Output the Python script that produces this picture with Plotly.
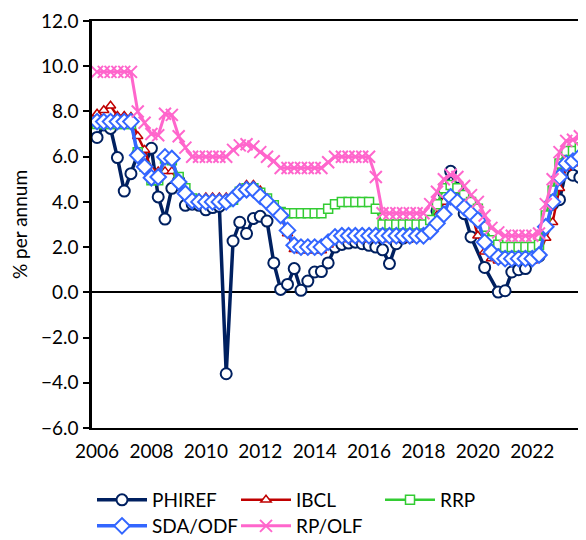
import pandas as pd
import plotly.graph_objects as go

# Quarterly observations, 2006Q1 .. 2023Q4
quarters = pd.period_range("2006Q1", periods=72, freq="Q").to_timestamp()

phiref = [6.85, 7.4, 7.25, 5.96, 4.48, 5.25, 6.1, 5.6,
          6.37, 4.22, 3.24, 4.6, 4.95, 3.85, 3.9, 3.85,
          3.65, 3.75, 3.8, -3.6, 2.27, 3.1, 2.6, 3.26,
          3.36, 3.15, 1.3, 0.13, 0.35, 1.05, 0.09, 0.5,
          0.9, 0.92, 1.3, 2.0, 2.12, 2.18, 2.22, 2.15,
          2.08, 2.0, 1.88, 1.27, 2.15, 2.4, 2.45, 2.5,
          2.6, 3.0, 3.6, 4.4, 5.35, 4.6, 3.48, 2.45,
          None, 1.1, None, 0.01, 0.07, 0.9, 1.0, 1.05,
          1.5, 1.6, 2.9, 3.9, 4.1, 5.4, 5.18, 5.08]

ibcl = [7.9, 8.05, 8.25, 7.8, 7.8, 7.75, 6.9, 6.3,
        5.4, 5.35, 5.35, 5.35, 4.9, 4.4, 4.1, 4.15,
        4.2, 4.2, 4.2, 4.2, 4.25, 4.6, 4.75, 4.75,
        4.5, 4.15, 3.8, 3.4, 2.6, 1.9, 1.85, 1.85,
        1.85, 1.85, 2.1, 2.5, 2.35, 2.35, 2.4, 2.35,
        2.35, 2.4, 2.35, 2.35, 2.4, 2.35, 2.35, 2.4,
        2.45, 2.8, 3.4, 4.0, 4.4, 4.2, 3.9, 3.6,
        2.5, 1.8, 1.5, 1.4, 1.4, 1.4, 1.4, 1.4,
        1.4, 1.7, 2.4, 3.1, 4.6, 5.5, 5.7, 5.85]

rrp = [7.45, 7.45, 7.45, 7.45, 7.45, 7.45, 6.2, 5.55,
       4.96, 4.96, 5.92, 5.84, 5.1, 4.6, 4.15, 4.0,
       4.0, 4.0, 4.0, 4.0, 4.1, 4.45, 4.6, 4.6,
       4.4, 4.15, 3.85, 3.55, 3.5, 3.5, 3.5, 3.5,
       3.5, 3.5, 3.7, 3.9, 4.0, 4.0, 4.0, 4.0,
       4.0, 3.7, 3.0, 3.0, 3.0, 3.0, 3.0, 3.0,
       3.0, 3.2, 3.9, 4.6, 4.75, 4.6, 4.3, 4.0,
       3.7, 2.9, 2.3, 2.1, 2.0, 2.0, 2.0, 2.0,
       2.0, 2.1, 3.4, 4.5, 5.7, 6.25, 6.25, 6.4]

sda_odf = [7.55, 7.55, 7.55, 7.55, 7.55, 7.55, 6.06, 5.55,
           5.07, 5.1, 5.99, 5.92, 4.88, 4.37, 4.05, 4.0,
           4.0, 4.0, 4.0, 4.0, 4.15, 4.44, 4.54, 4.54,
           4.25, 4.0, 3.7, 3.4, 2.74, 2.08, 2.0, 2.0,
           2.0, 2.0, 2.22, 2.45, 2.5, 2.5, 2.5, 2.5,
           2.5, 2.5, 2.5, 2.5, 2.5, 2.5, 2.5, 2.5,
           2.5, 2.7, 3.05, 3.45, 4.22, 4.0, 3.75, 3.48,
           3.2, 2.22, 1.78, 1.56, 1.49, 1.49, 1.49, 1.49,
           1.49, 1.65, 2.9, 4.0, 5.1, 5.7, 5.8, 6.0]

rp_olf = [9.75, 9.75, 9.75, 9.75, 9.75, 9.75, 8.0, 7.5,
          7.0, 6.95, 7.9, 7.85, 6.9, 6.4, 6.0, 6.0,
          6.0, 6.0, 6.0, 6.0, 6.3, 6.5, 6.55, 6.45,
          6.2, 6.0, 5.8, 5.5, 5.5, 5.5, 5.5, 5.5,
          5.5, 5.5, 5.75, 6.0, 6.0, 6.0, 6.0, 6.0,
          6.0, 5.1, 3.5, 3.5, 3.5, 3.5, 3.5, 3.5,
          3.5, 3.9, 4.45, 5.0, 5.2, 5.1, 4.7, 4.3,
          4.0, 3.4, 2.85, 2.65, 2.5, 2.5, 2.5, 2.5,
          2.5, 2.6, 3.9, 5.0, 6.2, 6.7, 6.75, 6.9]

tick_years = [2006, 2008, 2010, 2012, 2014, 2016, 2018, 2020, 2022]

FONT = "Lato"

fig = go.Figure()

# PHIREF - navy line, open circles
fig.add_trace(go.Scatter(
    x=quarters, y=phiref, name="PHIREF", mode="lines+markers",
    connectgaps=True,
    line=dict(color="#002060", width=3.5),
    marker=dict(symbol="circle", size=11, color="white",
                line=dict(color="#002060", width=2)),
))

# IBCL - dark red line, open triangles
fig.add_trace(go.Scatter(
    x=quarters, y=ibcl, name="IBCL", mode="lines+markers",
    line=dict(color="#C00000", width=2.5),
    marker=dict(symbol="triangle-up", size=9, color="white",
                line=dict(color="#C00000", width=1.5)),
))

# RRP - green line, open squares
fig.add_trace(go.Scatter(
    x=quarters, y=rrp, name="RRP", mode="lines+markers",
    line=dict(color="#33CC33", width=2.5),
    marker=dict(symbol="square", size=9, color="white",
                line=dict(color="#33CC33", width=1.5)),
))

# SDA/ODF - blue line, open diamonds
fig.add_trace(go.Scatter(
    x=quarters, y=sda_odf, name="SDA/ODF", mode="lines+markers",
    legend="legend2",
    line=dict(color="#3366FF", width=3.5),
    marker=dict(symbol="diamond", size=12, color="white",
                line=dict(color="#3366FF", width=2)),
))

# RP/OLF - pink line, x markers
fig.add_trace(go.Scatter(
    x=quarters, y=rp_olf, name="RP/OLF", mode="lines+markers",
    legend="legend2",
    line=dict(color="#FF66CC", width=3),
    marker=dict(symbol="x-thin", size=12, color="#FF66CC",
                line=dict(color="#FF66CC", width=2)),
))

legend_style = dict(
    orientation="h", x=0, xanchor="left", yanchor="middle", yref="container",
    entrywidth=79, entrywidthmode="pixels", itemwidth=50,
    font=dict(family=FONT, size=19, color="black"),
    bgcolor="rgba(0,0,0,0)",
)

# the page adds an 8px body margin, so the figure is 8px smaller each way
fig.update_layout(
    width=578, height=532,
    margin=dict(l=84, r=0, t=13, b=112),
    plot_bgcolor="white", paper_bgcolor="white",
    font=dict(family=FONT, size=19, color="black"),
    showlegend=True,
    legend=dict(y=0.0752, **legend_style),
    legend2=dict(y=0.0263, **legend_style),
    xaxis=dict(
        type="date",
        range=["2005-10-25", "2023-12-23"],
        tickvals=[f"{y}-01-01" for y in tick_years],
        ticktext=[str(y) for y in tick_years],
        showgrid=False, ticks="",
        showline=True, linecolor="black", linewidth=2, mirror=True,
        tickfont=dict(family=FONT, size=19, color="black"),
        ticklabelstandoff=5,
        automargin=False,
    ),
    yaxis=dict(
        range=[-6, 12], dtick=2, tickformat=".1f",
        showgrid=False, ticks="outside", ticklen=6, tickwidth=2, tickcolor="black",
        showline=True, linecolor="black", linewidth=2.5,
        zeroline=True, zerolinecolor="black", zerolinewidth=2,
        tickfont=dict(family=FONT, size=19, color="black"),
        ticklabelstandoff=1,
        automargin=False,
        title=dict(text="% per annum", font=dict(family=FONT, size=19, color="black"),
                   standoff=14),
    ),
)

fig.write_html("out.html")
